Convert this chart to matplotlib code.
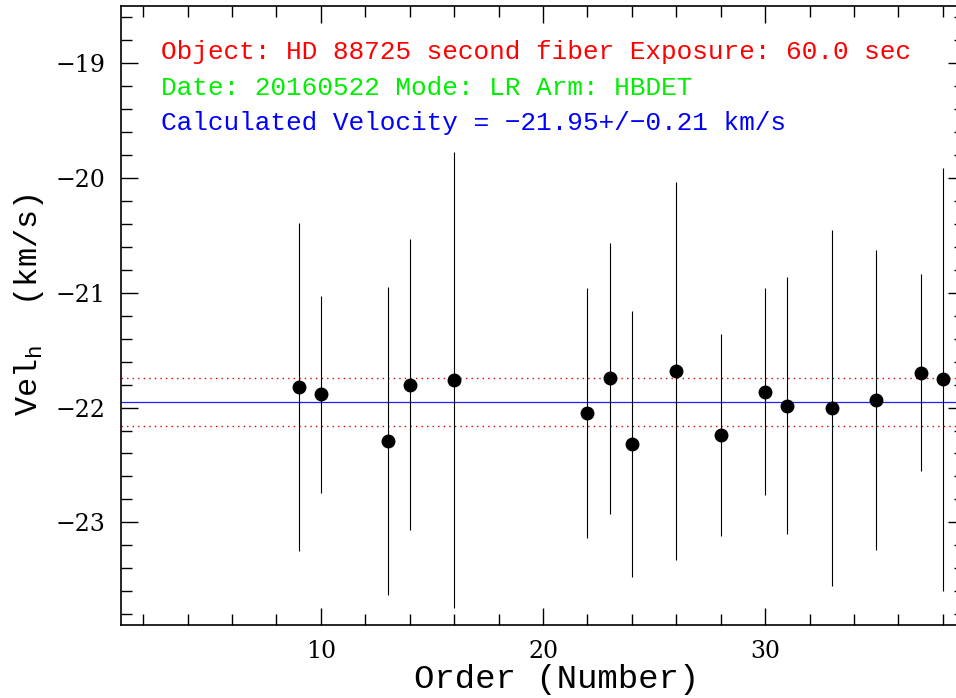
import matplotlib
matplotlib.use('Agg')
import matplotlib.pyplot as plt
from matplotlib.ticker import MultipleLocator

# per-order heliocentric velocities
orders = [9, 10, 13, 14, 16, 22, 23, 24, 26, 28, 30, 31, 33, 35, 37, 38]
vel = [-21.82, -21.885, -22.29, -21.80, -21.76, -22.05, -21.745, -22.32,
       -21.68, -22.24, -21.86, -21.985, -22.005, -21.935, -21.695, -21.755]
err = [1.43, 0.86, 1.34, 1.27, 1.99, 1.09, 1.18, 1.16,
       1.65, 0.88, 0.90, 1.12, 1.55, 1.31, 0.86, 1.84]

v_mean = -21.95
v_sig = 0.21

obj_line = 'Object: HD 88725 second fiber Exposure: 60.0 sec'
date_line = 'Date: 20160522 Mode: LR Arm: HBDET'
vel_line = 'Calculated Velocity = \u221221.95+/\u22120.21 km/s'

plt.rcParams['mathtext.fontset'] = 'custom'
plt.rcParams['mathtext.rm'] = 'Liberation Mono'
plt.rcParams['mathtext.it'] = 'Liberation Mono'

fig = plt.figure(figsize=(9.56, 6.98), dpi=100)
ax = fig.add_axes([121 / 956, 73 / 698, 844 / 956, 619 / 698])

ax.errorbar(orders, vel, yerr=err, fmt='o', color='black', ms=9,
            ecolor='black', elinewidth=0.8, capsize=0, zorder=3)

ax.axhline(v_mean, color='#2020ff', lw=0.9, zorder=2)
ax.axhline(v_mean + v_sig, color='#e00000', lw=1.0, ls=(0, (1, 3)), zorder=2)
ax.axhline(v_mean - v_sig, color='#e00000', lw=1.0, ls=(0, (1, 3)), zorder=2)

ax.set_xlim(1, 39)
ax.set_ylim(-23.895, -18.5)

ax.xaxis.set_major_locator(MultipleLocator(10))
ax.xaxis.set_minor_locator(MultipleLocator(2))
ax.yaxis.set_major_locator(MultipleLocator(1))
ax.yaxis.set_minor_locator(MultipleLocator(0.2))
ax.tick_params(which='both', direction='in', top=True, right=True,
               width=1.0, labelsize=17)
ax.tick_params(which='major', length=12.5)
ax.tick_params(which='minor', length=8)
ax.tick_params(axis='y', pad=11)
ax.tick_params(axis='x', pad=11)
for lab in ax.get_xticklabels() + ax.get_yticklabels():
    lab.set_family('DejaVu Serif')
for s in ax.spines.values():
    s.set_linewidth(1.2)

ax.set_xlabel('Order (Number)', family='Liberation Mono', fontsize=24.5,
              va='baseline')
ax.xaxis.set_label_coords(0.516, -0.1018)
ax.set_ylabel('Vel$_{\\mathrm{h}}$  (km/s)', family='Liberation Mono',
              fontsize=23, va='center')
ax.yaxis.set_label_coords(-0.109, 0.517)

txt = dict(transform=ax.transAxes, family='Liberation Mono', fontsize=18.8,
           va='baseline', ha='left')
ax.text(0.047, 0.914, obj_line, color='red', **txt)
ax.text(0.047, 0.857, date_line, color='#00ee00', **txt)
ax.text(0.047, 0.7997, vel_line, color='blue', **txt)

fig.savefig('out.png', dpi=100)
